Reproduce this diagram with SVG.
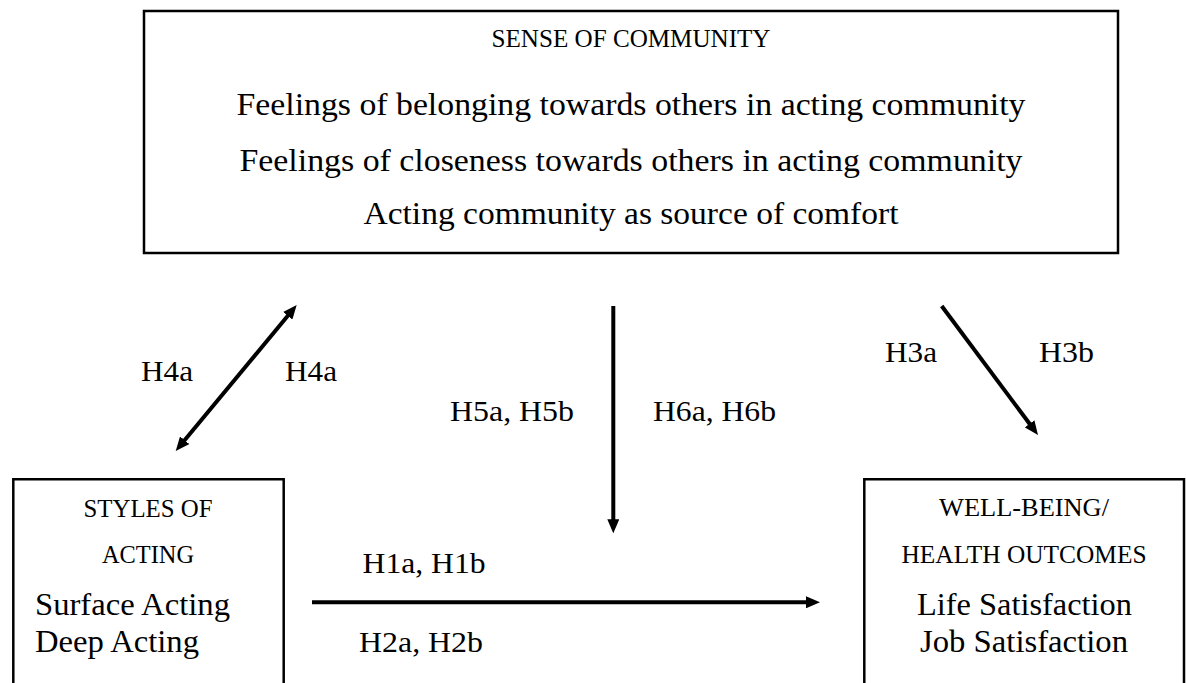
<svg xmlns="http://www.w3.org/2000/svg" width="1186" height="683" viewBox="0 0 1186 683">
<style>
  text { font-family: "Liberation Serif", "Times New Roman", serif; fill: #000; }
  .box { fill: #fff; stroke: #000; stroke-width: 2.5; }
  .head { font-size: 26px; }
  .body { font-size: 31px; }
  .lbl { font-size: 30px; }
  .conn { stroke: #000; stroke-width: 4; fill: none; stroke-linecap: butt; }
</style>
<defs>
  <marker id="ah" markerUnits="userSpaceOnUse" markerWidth="14" markerHeight="12" refX="4" refY="6" orient="auto-start-reverse" viewBox="0 0 14 12">
    <path d="M0,0 L14,6 L0,12 z" fill="#000"/>
  </marker>
</defs>
<rect width="1186" height="683" fill="#fff"/>

<g id="node-community">
  <rect class="box" x="144" y="11" width="974" height="242"/>
  <text class="head" x="631" y="46.5" text-anchor="middle" textLength="279" lengthAdjust="spacingAndGlyphs">SENSE OF COMMUNITY</text>
  <text class="body" x="631" y="115" text-anchor="middle" textLength="789" lengthAdjust="spacingAndGlyphs">Feelings of belonging towards others in acting community</text>
  <text class="body" x="631" y="170.5" text-anchor="middle" textLength="783" lengthAdjust="spacingAndGlyphs">Feelings of closeness towards others in acting community</text>
  <text class="body" x="631" y="224" text-anchor="middle" textLength="535" lengthAdjust="spacingAndGlyphs">Acting community as source of comfort</text>
</g>

<g id="node-styles">
  <path class="box" d="M13.3,700 V479.3 H283.7 V700"/>
  <text class="head" x="148" y="516.5" text-anchor="middle" textLength="129" lengthAdjust="spacingAndGlyphs">STYLES OF</text>
  <text class="head" x="148" y="562.5" text-anchor="middle" textLength="92" lengthAdjust="spacingAndGlyphs">ACTING</text>
  <text class="body" x="35" y="615" textLength="195" lengthAdjust="spacingAndGlyphs">Surface Acting</text>
  <text class="body" x="35" y="651.5" textLength="164" lengthAdjust="spacingAndGlyphs">Deep Acting</text>
</g>

<g id="node-wellbeing">
  <path class="box" d="M864.3,700 V479.3 H1184 V700"/>
  <text class="head" x="1024" y="516" text-anchor="middle" textLength="170" lengthAdjust="spacingAndGlyphs">WELL-BEING/</text>
  <text class="head" x="1024" y="562.5" text-anchor="middle" textLength="245" lengthAdjust="spacingAndGlyphs">HEALTH OUTCOMES</text>
  <text class="body" x="1024.5" y="615" text-anchor="middle" textLength="215" lengthAdjust="spacingAndGlyphs">Life Satisfaction</text>
  <text class="body" x="1024" y="651.5" text-anchor="middle" textLength="208" lengthAdjust="spacingAndGlyphs">Job Satisfaction</text>
</g>

<g id="connectors">
  <line class="conn" x1="182.1" y1="443.3" x2="290.3" y2="312.7" marker-start="url(#ah)" marker-end="url(#ah)"/>
  <line class="conn" x1="613.3" y1="306" x2="613.3" y2="523.3" marker-end="url(#ah)"/>
  <line class="conn" x1="941.7" y1="306" x2="1032" y2="427" marker-end="url(#ah)"/>
  <line class="conn" x1="312" y1="602.3" x2="810" y2="602.3" marker-end="url(#ah)"/>
</g>

<g id="labels">
  <text class="lbl" x="141" y="380.7" textLength="52" lengthAdjust="spacingAndGlyphs">H4a</text>
  <text class="lbl" x="285" y="380.7" textLength="52" lengthAdjust="spacingAndGlyphs">H4a</text>
  <text class="lbl" x="450" y="420.7" textLength="124" lengthAdjust="spacingAndGlyphs">H5a, H5b</text>
  <text class="lbl" x="653" y="420.7" textLength="123" lengthAdjust="spacingAndGlyphs">H6a, H6b</text>
  <text class="lbl" x="885" y="361.7" textLength="52" lengthAdjust="spacingAndGlyphs">H3a</text>
  <text class="lbl" x="1039" y="361.7" textLength="55" lengthAdjust="spacingAndGlyphs">H3b</text>
  <text class="lbl" x="362.6" y="573.3" textLength="123" lengthAdjust="spacingAndGlyphs">H1a, H1b</text>
  <text class="lbl" x="359" y="652.3" textLength="124" lengthAdjust="spacingAndGlyphs">H2a, H2b</text>
</g>
</svg>
